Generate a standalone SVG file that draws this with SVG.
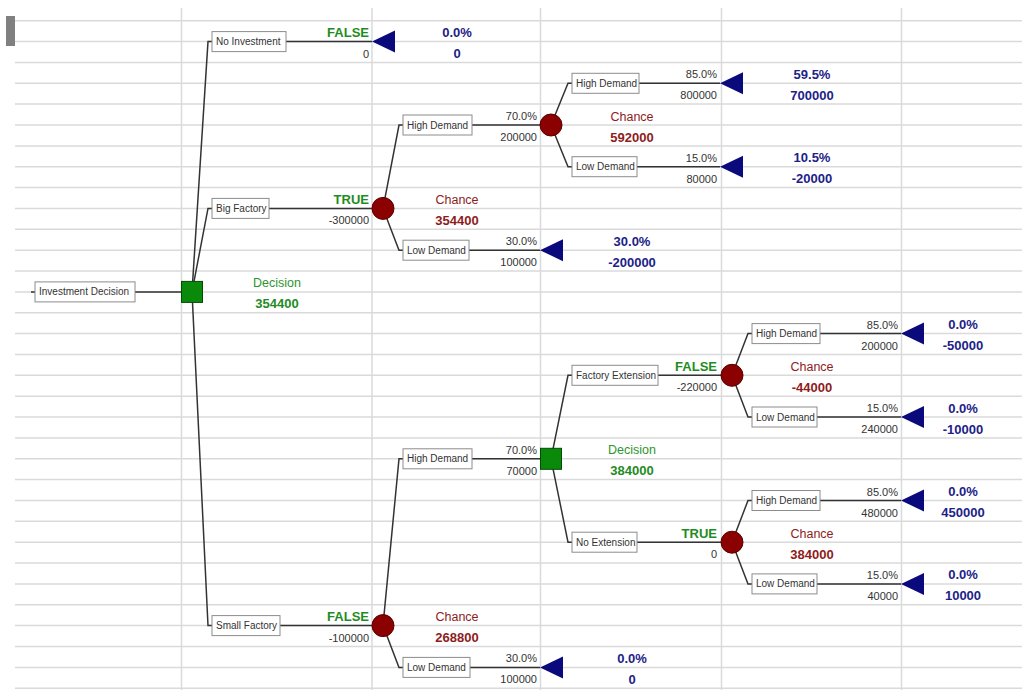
<svg xmlns="http://www.w3.org/2000/svg" width="1022" height="690" viewBox="0 0 1022 690">
<style>
.grid line{stroke:#dadada;stroke-width:1.5}
.edge{fill:none;stroke:#333;stroke-width:1.5}
.box{fill:#fff;stroke:#8c8c8c;stroke-width:1}
.bt{font-family:"Liberation Sans",Arial,sans-serif;font-size:10px;fill:#333}
.pv{font-family:"Liberation Sans",Arial,sans-serif;font-size:11px;fill:#333;text-anchor:end}
.tf{font-family:"Liberation Sans",Arial,sans-serif;font-size:13px;font-weight:bold;fill:#1e8c1e;text-anchor:end}
.dl{font-family:"Liberation Sans",Arial,sans-serif;font-size:12.5px;fill:#2e952e;text-anchor:middle}
.dv{font-family:"Liberation Sans",Arial,sans-serif;font-size:13px;font-weight:bold;fill:#1e8c1e;text-anchor:middle}
.cl{font-family:"Liberation Sans",Arial,sans-serif;font-size:12.5px;fill:#8e1c1c;text-anchor:middle}
.cv{font-family:"Liberation Sans",Arial,sans-serif;font-size:13px;font-weight:bold;fill:#8e1c1c;text-anchor:middle}
.tv{font-family:"Liberation Sans",Arial,sans-serif;font-size:13px;font-weight:bold;fill:#1c2288;text-anchor:middle}
.chance{fill:#8b0000;stroke:#5a0000;stroke-width:1}
.decision{fill:#0a8a0a;stroke:#054a05;stroke-width:1}
.term{fill:#0a0a7c}
</style>
<defs>
<polygon id="tri" class="term" points="0,0 23,-11 23,11"/>
</defs>
<rect width="1022" height="690" fill="#fff"/>
<rect x="6" y="16" width="9" height="30" fill="#808080"/>
<g class="grid">
<line x1="15" y1="20.7" x2="1022" y2="20.7"/>
<line x1="15" y1="41.6" x2="1022" y2="41.6"/>
<line x1="15" y1="62.4" x2="1022" y2="62.4"/>
<line x1="15" y1="83.3" x2="1022" y2="83.3"/>
<line x1="15" y1="104.1" x2="1022" y2="104.1"/>
<line x1="15" y1="125" x2="1022" y2="125"/>
<line x1="15" y1="145.9" x2="1022" y2="145.9"/>
<line x1="15" y1="166.7" x2="1022" y2="166.7"/>
<line x1="15" y1="187.6" x2="1022" y2="187.6"/>
<line x1="15" y1="208.4" x2="1022" y2="208.4"/>
<line x1="15" y1="229.3" x2="1022" y2="229.3"/>
<line x1="15" y1="250.2" x2="1022" y2="250.2"/>
<line x1="15" y1="271" x2="1022" y2="271"/>
<line x1="15" y1="291.9" x2="1022" y2="291.9"/>
<line x1="15" y1="312.7" x2="1022" y2="312.7"/>
<line x1="15" y1="333.6" x2="1022" y2="333.6"/>
<line x1="15" y1="354.5" x2="1022" y2="354.5"/>
<line x1="15" y1="375.3" x2="1022" y2="375.3"/>
<line x1="15" y1="396.2" x2="1022" y2="396.2"/>
<line x1="15" y1="417" x2="1022" y2="417"/>
<line x1="15" y1="437.9" x2="1022" y2="437.9"/>
<line x1="15" y1="458.8" x2="1022" y2="458.8"/>
<line x1="15" y1="479.6" x2="1022" y2="479.6"/>
<line x1="15" y1="500.5" x2="1022" y2="500.5"/>
<line x1="15" y1="521.3" x2="1022" y2="521.3"/>
<line x1="15" y1="542.2" x2="1022" y2="542.2"/>
<line x1="15" y1="563.1" x2="1022" y2="563.1"/>
<line x1="15" y1="583.9" x2="1022" y2="583.9"/>
<line x1="15" y1="604.8" x2="1022" y2="604.8"/>
<line x1="15" y1="625.6" x2="1022" y2="625.6"/>
<line x1="15" y1="646.5" x2="1022" y2="646.5"/>
<line x1="15" y1="667.4" x2="1022" y2="667.4"/>
<line x1="15" y1="688.2" x2="1022" y2="688.2"/>
<line x1="181.5" y1="8" x2="181.5" y2="690"/>
<line x1="372" y1="8" x2="372" y2="690"/>
<line x1="540.5" y1="8" x2="540.5" y2="690"/>
<line x1="721.5" y1="8" x2="721.5" y2="690"/>
<line x1="901.5" y1="8" x2="901.5" y2="690"/>
</g>
<g id="connectors">
<polyline class="edge" points="31,291.9 181.5,291.9"/>
<polyline class="edge" points="192,291.9 208,41.6 372,41.6"/>
<polyline class="edge" points="192,291.9 208,208.4 372,208.4"/>
<polyline class="edge" points="192,291.9 208,625.6 372,625.6"/>
<polyline class="edge" points="383,208.4 399,125 540,125"/>
<polyline class="edge" points="383,208.4 399,250.2 540,250.2"/>
<polyline class="edge" points="551,125 568,83.3 720,83.3"/>
<polyline class="edge" points="551,125 568,166.7 720,166.7"/>
<polyline class="edge" points="383,625.6 399,458.8 540.5,458.8"/>
<polyline class="edge" points="383,625.6 399,667.4 540,667.4"/>
<polyline class="edge" points="551,458.8 568,375.3 721,375.3"/>
<polyline class="edge" points="551,458.8 568,542.2 721,542.2"/>
<polyline class="edge" points="732,375.3 748,333.6 901,333.6"/>
<polyline class="edge" points="732,375.3 748,417 901,417"/>
<polyline class="edge" points="732,542.2 748,500.5 901,500.5"/>
<polyline class="edge" points="732,542.2 748,583.9 901,583.9"/>
</g>

<!-- root -->
<g id="root-label" transform="translate(0,291.9)">
<rect class="box" x="35" y="-10" width="100" height="20"/>
<text class="bt" x="39" y="3.5">Investment Decision</text>
</g>
<g id="node-root" transform="translate(192,291.9)">
<rect class="decision" x="-10.5" y="-10.5" width="21" height="21"/>
<text class="dl" x="85" y="-4.5">Decision</text>
<text class="dv" x="85" y="16.5">354400</text>
</g>

<!-- No Investment -->
<g id="branch-no-investment" transform="translate(0,41.6)">
<rect class="box" x="212" y="-10" width="74" height="20"/>
<text class="bt" x="216" y="3.5">No Investment</text>
<text class="tf" x="369" y="-4.5">FALSE</text>
<text class="pv" x="369" y="16">0</text>
</g>
<g id="term-no-investment" transform="translate(372,41.6)">
<use href="#tri"/>
<text class="tv" x="85" y="-4.5">0.0%</text>
<text class="tv" x="85" y="16.5">0</text>
</g>

<!-- Big Factory -->
<g id="branch-big-factory" transform="translate(0,208.4)">
<rect class="box" x="212" y="-10" width="57" height="20"/>
<text class="bt" x="216" y="3.5">Big Factory</text>
<text class="tf" x="369" y="-4.5">TRUE</text>
<text class="pv" x="369" y="16">-300000</text>
</g>
<g id="node-bf-chance" transform="translate(383,208.4)">
<circle class="chance" r="11"/>
<text class="cl" x="74" y="-4.5">Chance</text>
<text class="cv" x="74" y="16.5">354400</text>
</g>

<g id="branch-bf-high" transform="translate(0,125)">
<rect class="box" x="403" y="-10" width="69" height="20"/>
<text class="bt" x="407" y="3.5">High Demand</text>
<text class="pv" x="537" y="-5">70.0%</text>
<text class="pv" x="537" y="16">200000</text>
</g>
<g id="node-bfhd-chance" transform="translate(551,125)">
<circle class="chance" r="11"/>
<text class="cl" x="81" y="-4.5">Chance</text>
<text class="cv" x="81" y="16.5">592000</text>
</g>

<g id="branch-bf-low" transform="translate(0,250.2)">
<rect class="box" x="403" y="-10" width="66" height="20"/>
<text class="bt" x="407" y="3.5">Low Demand</text>
<text class="pv" x="537" y="-5">30.0%</text>
<text class="pv" x="537" y="16">100000</text>
</g>
<g id="term-bf-low" transform="translate(540,250.2)">
<use href="#tri"/>
<text class="tv" x="92" y="-4.5">30.0%</text>
<text class="tv" x="92" y="16.5">-200000</text>
</g>

<g id="branch-bfhd-high" transform="translate(0,83.3)">
<rect class="box" x="572" y="-10" width="67" height="20"/>
<text class="bt" x="576" y="3.5">High Demand</text>
<text class="pv" x="717" y="-5">85.0%</text>
<text class="pv" x="717" y="16">800000</text>
</g>
<g id="term-bfhd-high" transform="translate(720,83.3)">
<use href="#tri"/>
<text class="tv" x="92" y="-4.5">59.5%</text>
<text class="tv" x="92" y="16.5">700000</text>
</g>

<g id="branch-bfhd-low" transform="translate(0,166.7)">
<rect class="box" x="572" y="-10" width="65" height="20"/>
<text class="bt" x="576" y="3.5">Low Demand</text>
<text class="pv" x="717" y="-5">15.0%</text>
<text class="pv" x="717" y="16">80000</text>
</g>
<g id="term-bfhd-low" transform="translate(720,166.7)">
<use href="#tri"/>
<text class="tv" x="92" y="-4.5">10.5%</text>
<text class="tv" x="92" y="16.5">-20000</text>
</g>

<!-- Small Factory -->
<g id="branch-small-factory" transform="translate(0,625.6)">
<rect class="box" x="212" y="-10" width="68" height="20"/>
<text class="bt" x="216" y="3.5">Small Factory</text>
<text class="tf" x="369" y="-4.5">FALSE</text>
<text class="pv" x="369" y="16">-100000</text>
</g>
<g id="node-sf-chance" transform="translate(383,625.6)">
<circle class="chance" r="11"/>
<text class="cl" x="74" y="-4.5">Chance</text>
<text class="cv" x="74" y="16.5">268800</text>
</g>

<g id="branch-sf-high" transform="translate(0,458.8)">
<rect class="box" x="403" y="-10" width="69" height="20"/>
<text class="bt" x="407" y="3.5">High Demand</text>
<text class="pv" x="537" y="-5">70.0%</text>
<text class="pv" x="537" y="16">70000</text>
</g>
<g id="node-sfhd-decision" transform="translate(551,458.8)">
<rect class="decision" x="-10.5" y="-10.5" width="21" height="21"/>
<text class="dl" x="81" y="-4.5">Decision</text>
<text class="dv" x="81" y="16.5">384000</text>
</g>

<g id="branch-sf-low" transform="translate(0,667.4)">
<rect class="box" x="403" y="-10" width="67" height="20"/>
<text class="bt" x="407" y="3.5">Low Demand</text>
<text class="pv" x="537" y="-5">30.0%</text>
<text class="pv" x="537" y="16">100000</text>
</g>
<g id="term-sf-low" transform="translate(540,667.4)">
<use href="#tri"/>
<text class="tv" x="92" y="-4.5">0.0%</text>
<text class="tv" x="92" y="16.5">0</text>
</g>

<!-- Factory Extension -->
<g id="branch-factory-extension" transform="translate(0,375.3)">
<rect class="box" x="572" y="-10" width="86" height="20"/>
<text class="bt" x="576" y="3.5">Factory Extension</text>
<text class="tf" x="717" y="-4.5">FALSE</text>
<text class="pv" x="717" y="16">-220000</text>
</g>
<g id="node-fe-chance" transform="translate(732,375.3)">
<circle class="chance" r="11"/>
<text class="cl" x="80" y="-4.5">Chance</text>
<text class="cv" x="80" y="16.5">-44000</text>
</g>

<g id="branch-fe-high" transform="translate(0,333.6)">
<rect class="box" x="752" y="-10" width="68" height="20"/>
<text class="bt" x="756" y="3.5">High Demand</text>
<text class="pv" x="898" y="-5">85.0%</text>
<text class="pv" x="898" y="16">200000</text>
</g>
<g id="term-fe-high" transform="translate(901,333.6)">
<use href="#tri"/>
<text class="tv" x="62" y="-4.5">0.0%</text>
<text class="tv" x="62" y="16.5">-50000</text>
</g>

<g id="branch-fe-low" transform="translate(0,417)">
<rect class="box" x="752" y="-10" width="65" height="20"/>
<text class="bt" x="756" y="3.5">Low Demand</text>
<text class="pv" x="898" y="-5">15.0%</text>
<text class="pv" x="898" y="16">240000</text>
</g>
<g id="term-fe-low" transform="translate(901,417)">
<use href="#tri"/>
<text class="tv" x="62" y="-4.5">0.0%</text>
<text class="tv" x="62" y="16.5">-10000</text>
</g>

<!-- No Extension -->
<g id="branch-no-extension" transform="translate(0,542.2)">
<rect class="box" x="572" y="-10" width="65" height="20"/>
<text class="bt" x="576" y="3.5">No Extension</text>
<text class="tf" x="717" y="-4.5">TRUE</text>
<text class="pv" x="717" y="16">0</text>
</g>
<g id="node-ne-chance" transform="translate(732,542.2)">
<circle class="chance" r="11"/>
<text class="cl" x="80" y="-4.5">Chance</text>
<text class="cv" x="80" y="16.5">384000</text>
</g>

<g id="branch-ne-high" transform="translate(0,500.5)">
<rect class="box" x="752" y="-10" width="68" height="20"/>
<text class="bt" x="756" y="3.5">High Demand</text>
<text class="pv" x="898" y="-5">85.0%</text>
<text class="pv" x="898" y="16">480000</text>
</g>
<g id="term-ne-high" transform="translate(901,500.5)">
<use href="#tri"/>
<text class="tv" x="62" y="-4.5">0.0%</text>
<text class="tv" x="62" y="16.5">450000</text>
</g>

<g id="branch-ne-low" transform="translate(0,583.9)">
<rect class="box" x="752" y="-10" width="65" height="20"/>
<text class="bt" x="756" y="3.5">Low Demand</text>
<text class="pv" x="898" y="-5">15.0%</text>
<text class="pv" x="898" y="16">40000</text>
</g>
<g id="term-ne-low" transform="translate(901,583.9)">
<use href="#tri"/>
<text class="tv" x="62" y="-4.5">0.0%</text>
<text class="tv" x="62" y="16.5">10000</text>
</g>
</svg>
